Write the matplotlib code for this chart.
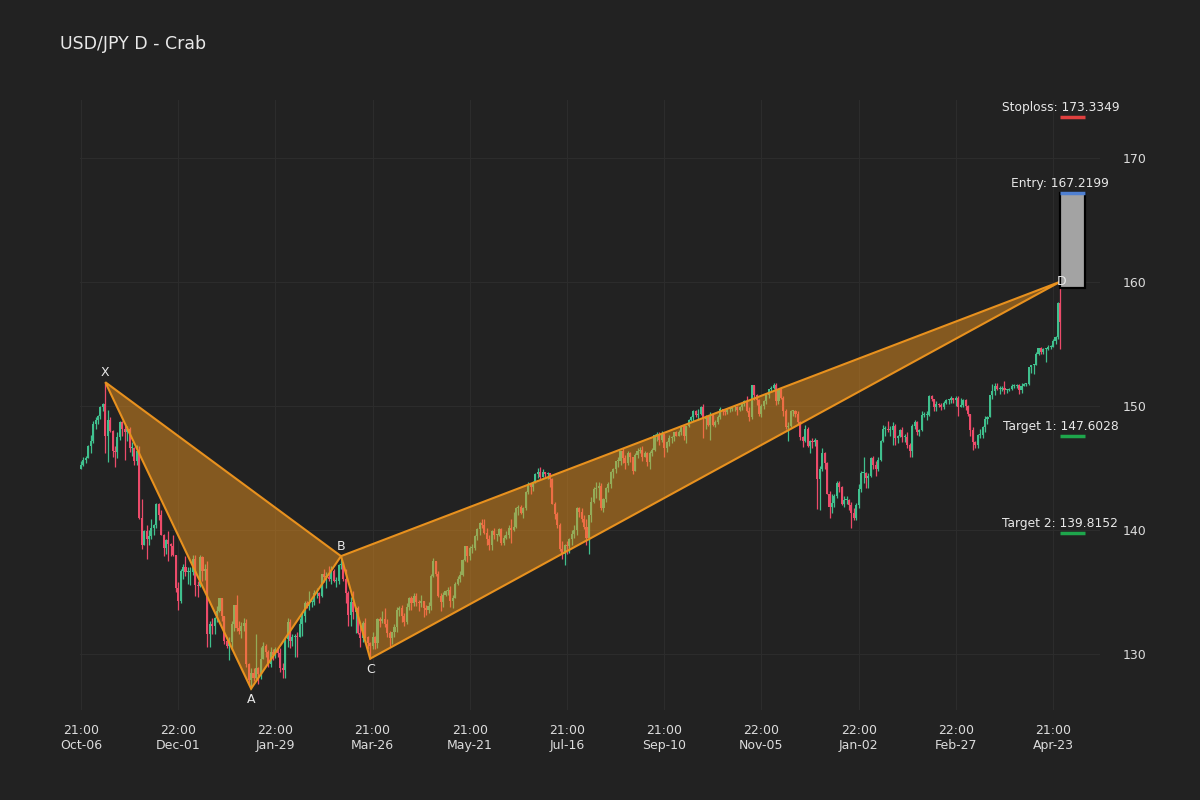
import matplotlib
matplotlib.use("Agg")
import matplotlib.pyplot as plt
from matplotlib.patches import Polygon, Rectangle
import numpy as np

# daily USD/JPY bars, Oct 2022 - Apr 2024 (one value per trading day)
closes = [
    145.3, 145.7, 145.8, 146.8, 147.2, 148.6, 148.9, 149.2, 149.9, 150.2,
    147.6, 148.9, 148.0, 146.4, 146.3, 147.5, 148.7, 148.2, 147.9, 148.2,
    146.6, 146.6, 145.6, 146.4, 141.0, 138.8, 139.9, 139.3, 139.5, 140.2,
    140.4, 142.1, 141.2, 139.6, 138.6, 139.2, 138.9, 138.7, 138.0, 135.3,
    134.3, 136.7, 137.0, 136.6, 136.6, 136.6, 137.7, 135.6, 135.5, 137.8,
    136.7, 136.9, 131.6, 132.4, 132.3, 132.9, 133.5, 134.5, 133.1, 131.1,
    130.7, 131.0, 132.4, 134.0, 132.1, 131.9, 132.3, 132.5, 129.2, 127.9,
    128.5, 128.1, 128.9, 128.4, 129.6, 130.7, 130.2, 129.2, 130.2, 129.9,
    130.4, 130.1, 128.9, 128.7, 131.2, 132.6, 131.1, 131.4, 131.5, 131.4,
    132.4, 133.1, 134.1, 133.9, 134.2, 134.2, 134.9, 134.9, 134.7, 136.5,
    136.2, 136.2, 136.1, 136.7, 135.9, 135.9, 137.2, 137.3, 136.1, 134.9,
    133.2, 134.2, 133.4, 133.7, 131.7, 131.3, 132.5, 131.4, 130.9, 130.7,
    131.4, 130.9, 132.8, 132.7, 132.8, 132.4, 131.7, 131.3, 131.8, 132.2,
    133.6, 133.7, 133.1, 132.6, 133.8, 134.5, 134.1, 134.7, 134.2, 134.1,
    134.3, 133.7, 133.6, 133.9, 136.3, 137.5, 136.5, 134.7, 134.2, 134.8,
    135.1, 135.2, 134.3, 134.5, 135.7, 136.1, 136.4, 137.6, 138.7, 137.9,
    138.6, 138.6, 139.5, 140.1, 140.6, 140.4, 139.8, 139.3, 138.8, 139.9,
    139.6, 139.6, 140.1, 139.0, 139.4, 139.6, 140.2, 140.0, 140.3, 141.8,
    141.9, 141.4, 141.8, 143.1, 143.7, 143.5, 143.9, 144.5, 144.7, 144.3,
    144.7, 144.5, 144.6, 144.1, 142.1, 141.3, 140.4, 138.5, 138.1, 138.8,
    138.7, 139.3, 139.7, 140.0, 141.8, 141.5, 140.9, 140.3, 139.4, 141.2,
    142.3, 143.3, 143.4, 143.6, 141.8, 142.5, 143.4, 143.7, 144.7, 144.9,
    145.6, 145.6, 146.4, 145.8, 145.4, 146.2, 145.9, 144.8, 146.1, 146.4,
    146.5, 145.9, 146.2, 145.5, 146.2, 146.5, 147.7, 147.7, 147.3, 147.8,
    146.6, 147.1, 147.4, 147.5, 147.9, 147.6, 147.9, 148.4, 147.6, 148.4,
    148.9, 149.1, 149.6, 149.3, 149.4, 149.9, 149.0, 149.1, 148.5, 149.3,
    148.5, 148.7, 149.1, 149.8, 149.6, 149.5, 149.8, 149.8, 149.9, 149.9,
    149.7, 149.9, 150.2, 150.4, 149.6, 149.1, 151.7, 150.9, 150.5, 149.4,
    150.0, 150.4, 150.9, 151.4, 151.5, 151.7, 150.4, 151.4, 150.7, 149.6,
    148.3, 148.4, 149.6, 149.6, 149.4, 148.7, 147.5, 147.2, 148.2, 146.8,
    147.2, 147.1, 147.3, 144.1, 144.9, 146.2, 145.4, 142.9, 141.9, 142.2,
    142.8, 143.8, 143.5, 142.1, 142.4, 142.4, 142.0, 141.4, 141.0, 142.0,
    143.3, 144.6, 144.6, 144.2, 144.4, 145.8, 145.3, 144.9, 145.7, 147.2,
    148.2, 148.2, 148.1, 148.1, 148.4, 147.4, 147.6, 148.1, 147.5, 147.5,
    146.9, 146.4, 148.4, 148.7, 147.9, 148.1, 149.3, 149.3, 149.3, 150.8,
    150.6, 149.9, 150.2, 150.1, 149.9, 150.3, 150.5, 150.5, 150.7, 150.5,
    150.7, 149.9, 150.1, 150.5, 150.0, 149.4, 148.1, 147.1, 146.9, 147.7,
    147.7, 148.3, 149.0, 149.1, 150.9, 151.2, 151.6, 151.4, 151.4, 151.5,
    151.3, 151.3, 151.4, 151.6, 151.6, 151.7, 151.3, 151.6, 151.8, 151.8,
    153.2, 153.3, 153.3, 154.2, 154.7, 154.4, 154.6, 154.6, 154.8, 154.8,
    155.3, 155.6, 158.3, 156.8,
]
highs = [
    145.6, 145.9, 146.0, 146.9, 147.7, 148.8, 149.1, 149.3, 150.0, 150.3,
    151.9, 149.7, 149.1, 148.1, 146.8, 147.9, 148.8, 148.8, 148.6, 148.4,
    148.3, 147.1, 146.7, 146.9, 146.8, 142.5, 140.0, 140.4, 140.0, 140.9,
    140.5, 142.2, 142.2, 141.6, 139.7, 139.3, 139.9, 139.0, 139.6, 138.0,
    135.8, 136.9, 137.3, 137.9, 137.0, 137.0, 138.0, 138.0, 135.9, 138.0,
    137.9, 137.3, 137.5, 132.7, 132.9, 133.0, 133.9, 134.5, 134.5, 133.1,
    131.4, 131.4, 132.7, 134.0, 134.8, 132.7, 132.6, 132.9, 132.8, 129.3,
    128.9, 128.9, 131.6, 129.0, 130.6, 131.0, 130.8, 130.3, 130.6, 130.4,
    130.6, 130.5, 130.5, 129.3, 131.2, 132.9, 132.8, 131.6, 131.6, 131.8,
    132.9, 133.3, 134.3, 134.3, 135.1, 134.4, 135.2, 135.3, 135.0, 136.5,
    136.9, 136.6, 137.1, 137.1, 136.9, 136.2, 137.3, 137.9, 137.4, 136.9,
    135.1, 134.6, 135.1, 133.8, 133.9, 132.6, 132.7, 132.9, 131.5, 131.0,
    131.8, 131.5, 132.9, 133.0, 133.5, 133.7, 132.8, 131.9, 131.8, 132.4,
    133.8, 133.9, 134.0, 133.3, 134.1, 134.6, 134.7, 134.9, 134.9, 134.4,
    134.8, 134.3, 134.0, 134.2, 136.5, 137.8, 137.5, 136.7, 134.9, 135.0,
    135.2, 135.4, 135.5, 134.8, 135.8, 136.3, 136.7, 137.7, 138.7, 138.7,
    138.7, 138.9, 139.6, 140.2, 140.7, 140.9, 140.9, 140.2, 139.6, 140.0,
    140.2, 139.7, 140.2, 140.2, 139.6, 139.9, 140.4, 140.9, 141.5, 141.9,
    142.0, 142.0, 141.9, 143.2, 143.9, 143.7, 144.0, 144.6, 145.0, 145.1,
    144.9, 144.7, 144.7, 144.6, 144.2, 142.3, 141.5, 140.6, 139.1, 138.9,
    139.1, 139.4, 140.0, 140.4, 141.9, 141.9, 141.8, 141.2, 140.9, 141.2,
    142.7, 143.5, 143.9, 143.9, 143.8, 142.6, 143.5, 143.9, 144.8, 145.0,
    145.6, 145.9, 146.4, 146.6, 146.1, 146.4, 146.3, 145.9, 146.2, 146.6,
    146.7, 146.8, 146.4, 146.3, 146.4, 146.6, 147.8, 147.9, 147.9, 148.0,
    147.8, 147.2, 147.7, 147.6, 147.9, 148.0, 148.1, 148.5, 148.4, 148.4,
    149.0, 149.2, 149.7, 149.7, 149.8, 150.0, 150.2, 149.3, 149.3, 149.5,
    149.3, 148.9, 149.3, 149.9, 149.8, 149.8, 149.8, 149.9, 150.0, 150.0,
    150.0, 150.0, 150.2, 150.5, 150.8, 149.9, 151.7, 151.7, 151.0, 150.6,
    150.2, 150.5, 151.0, 151.4, 151.6, 151.9, 151.9, 151.4, 151.5, 150.8,
    149.8, 148.7, 149.7, 149.7, 149.7, 149.6, 148.8, 147.6, 148.5, 148.3,
    147.3, 147.4, 147.4, 147.3, 145.2, 146.6, 146.3, 145.5, 143.2, 142.9,
    142.9, 144.0, 144.0, 143.6, 142.8, 142.8, 142.5, 142.3, 141.8, 142.2,
    143.7, 144.8, 145.9, 144.7, 144.6, 145.9, 146.0, 145.6, 145.9, 147.3,
    148.5, 148.4, 148.8, 148.4, 148.7, 148.6, 147.7, 148.2, 148.3, 147.8,
    147.9, 147.0, 148.6, 148.9, 148.8, 148.2, 149.6, 149.5, 149.6, 150.9,
    150.9, 150.6, 150.4, 150.3, 150.3, 150.4, 150.6, 150.6, 150.8, 150.7,
    150.8, 150.8, 150.7, 150.6, 150.6, 150.1, 149.4, 148.3, 147.2, 147.8,
    148.2, 148.4, 149.2, 149.2, 150.9, 151.8, 151.9, 151.9, 151.6, 151.6,
    152.0, 151.4, 151.5, 151.8, 151.8, 151.8, 151.8, 151.9, 151.9, 151.9,
    153.2, 153.3, 153.4, 154.4, 154.7, 154.8, 154.7, 154.7, 154.9, 154.9,
    155.4, 155.7, 158.4, 159.5,
]
lows = [
    144.9, 145.2, 145.4, 145.8, 146.2, 147.0, 148.2, 148.6, 149.0, 149.6,
    146.2, 145.5, 147.9, 145.9, 145.1, 145.8, 147.3, 147.6, 145.7, 147.2,
    146.3, 146.0, 145.3, 145.3, 140.9, 138.5, 138.8, 137.7, 138.8, 139.3,
    139.6, 140.2, 140.8, 139.6, 137.9, 138.1, 137.5, 137.9, 137.9, 135.0,
    133.6, 134.1, 136.1, 136.3, 135.7, 135.6, 136.4, 134.7, 134.6, 135.4,
    135.9, 136.0, 130.6, 130.6, 131.6, 131.6, 132.6, 133.4, 132.7, 130.8,
    130.5, 129.5, 130.3, 131.9, 131.9, 131.6, 131.3, 131.9, 129.0, 127.5,
    127.2, 127.8, 127.9, 127.6, 128.0, 129.6, 129.8, 129.0, 129.0, 129.5,
    129.7, 129.8, 128.6, 128.1, 128.1, 130.6, 130.5, 130.7, 129.8, 129.8,
    131.4, 131.5, 132.6, 133.7, 133.6, 133.8, 134.0, 134.5, 134.1, 134.6,
    135.8, 135.3, 135.9, 135.7, 135.8, 135.4, 135.7, 136.9, 135.9, 134.1,
    132.3, 132.3, 132.8, 131.7, 131.6, 130.6, 131.0, 131.3, 130.4, 129.6,
    130.4, 130.4, 130.5, 132.2, 132.5, 132.2, 131.4, 130.6, 130.8, 131.4,
    131.8, 133.1, 132.6, 132.3, 132.4, 133.6, 133.6, 133.9, 133.9, 133.5,
    133.8, 133.0, 133.2, 133.3, 133.6, 136.2, 136.3, 134.6, 133.5, 133.8,
    134.7, 134.8, 133.8, 133.7, 134.5, 135.6, 135.8, 136.3, 137.5, 137.4,
    137.6, 138.2, 138.4, 139.2, 139.6, 140.2, 139.7, 138.8, 138.4, 138.4,
    139.3, 139.1, 139.5, 138.8, 138.8, 139.3, 139.4, 139.0, 139.9, 140.2,
    141.2, 141.3, 141.0, 141.6, 142.9, 142.9, 143.2, 143.8, 144.2, 144.1,
    144.3, 144.2, 144.1, 143.5, 142.1, 140.9, 140.2, 138.3, 137.7, 137.2,
    138.1, 138.2, 138.8, 139.4, 139.6, 141.1, 140.7, 140.1, 138.8, 138.1,
    140.7, 142.2, 142.6, 142.4, 141.6, 141.5, 142.3, 143.1, 143.4, 144.2,
    144.6, 145.1, 145.3, 145.4, 144.9, 145.3, 145.5, 144.5, 144.8, 145.8,
    146.2, 145.6, 145.9, 145.2, 144.9, 146.0, 146.4, 147.2, 146.9, 147.1,
    145.9, 146.3, 146.8, 147.0, 147.2, 147.6, 147.6, 147.7, 147.3, 147.0,
    148.3, 148.8, 148.8, 149.1, 148.9, 149.3, 147.4, 148.2, 148.4, 147.3,
    148.4, 148.3, 148.6, 149.0, 149.3, 149.3, 149.4, 149.5, 149.6, 149.6,
    149.3, 149.6, 149.7, 150.0, 149.5, 148.8, 149.0, 150.5, 150.1, 149.2,
    149.1, 149.8, 150.2, 150.7, 151.2, 151.4, 150.1, 150.2, 150.6, 149.2,
    148.2, 147.2, 148.3, 149.2, 149.1, 148.6, 147.3, 146.7, 147.1, 146.7,
    146.2, 146.6, 146.8, 141.7, 141.6, 144.8, 144.9, 142.9, 141.0, 141.4,
    141.9, 142.6, 143.1, 142.0, 141.9, 142.1, 141.6, 140.2, 140.8, 140.8,
    141.8, 143.1, 143.8, 143.4, 143.4, 144.3, 144.9, 144.4, 144.8, 145.6,
    147.1, 147.6, 147.9, 147.6, 146.9, 146.9, 147.0, 147.5, 147.1, 147.1,
    146.6, 145.9, 145.9, 148.2, 147.7, 147.6, 148.0, 149.1, 148.9, 149.2,
    150.4, 149.6, 149.6, 149.9, 149.7, 149.8, 150.2, 150.2, 150.3, 150.3,
    150.0, 149.2, 149.9, 149.9, 149.7, 149.2, 147.6, 146.5, 146.6, 146.6,
    147.4, 147.4, 147.9, 148.6, 149.1, 150.6, 150.9, 151.3, 151.0, 151.2,
    151.0, 151.1, 151.2, 151.3, 151.5, 151.5, 151.0, 151.1, 151.6, 151.6,
    151.7, 152.7, 152.6, 153.3, 154.1, 154.2, 154.2, 153.6, 154.5, 154.6,
    154.8, 155.0, 155.4, 154.6,
]
# forex daily bars open at the previous close
opens = [144.9] + closes[:-1]

tick_pos = [0, 40, 80, 120, 160, 200, 240, 280, 320, 360, 400]
tick_labels = ["21:00\nOct-06", "22:00\nDec-01", "22:00\nJan-29", "21:00\nMar-26",
               "21:00\nMay-21", "21:00\nJul-16", "21:00\nSep-10", "22:00\nNov-05",
               "22:00\nJan-02", "22:00\nFeb-27", "21:00\nApr-23"]

# harmonic pattern points (bar index, price)
pattern_names = ["X", "A", "B", "C", "D"]
pattern_idx = [10, 70, 107, 119, 403]
pattern_px = [151.94, 127.22, 137.91, 129.64, 160.05]

entry = 167.2199
stoploss = 173.3349
target1 = 147.6028
target2 = 139.8152
box_low = 159.55

bg = "#222222"
up_col = "#40c08e"
down_col = "#ec4b6a"
orange = "#e8911e"
txt = "#e8e8e8"

fig = plt.figure(figsize=(12, 8), dpi=100, facecolor=bg)
ax = fig.add_axes([80 / 1200, 90 / 800, 1020 / 1200, 610 / 800])
ax.set_facecolor(bg)

o = np.array(opens)
c = np.array(closes)
h = np.array(highs)
l = np.array(lows)
x = np.arange(len(c))
colors = np.where(c >= o, up_col, down_col)

ax.vlines(x, l, h, colors=colors, linewidth=0.9, zorder=2)
body = np.abs(c - o)
body = np.where(body < 0.08, 0.08, body)
ax.bar(x, body, bottom=np.minimum(o, c), width=0.85, color=colors,
       linewidth=0, zorder=2)

# pattern triangles XAB and BCD
pts = list(zip(pattern_idx, pattern_px))
for tri in ([pts[0], pts[1], pts[2]], [pts[2], pts[3], pts[4]]):
    ax.add_patch(Polygon(tri, closed=True, facecolor="#f0961e", alpha=0.48,
                         edgecolor="none", zorder=3))
    ax.add_patch(Polygon(tri, closed=True, facecolor="none", edgecolor=orange,
                         linewidth=1.5, zorder=4))

offsets = {"X": 10, "A": -11, "B": 10, "C": -11, "D": 0}
for name, xi, yi in zip(pattern_names, pattern_idx, pattern_px):
    ax.annotate(name, (xi, yi), xytext=(1 if name == "D" else 0, offsets[name]),
                textcoords="offset pixels", ha="center", va="center",
                color=txt, fontsize=9, zorder=6)

# entry box and levels
x0, x1 = 403, 413
ax.add_patch(Rectangle((x0, box_low), x1 - x0, entry - box_low, facecolor="#a3a3a3",
                       edgecolor="black", linewidth=1.6, zorder=5))
ax.hlines(entry, x0, x1, colors="#4f80d2", linewidth=2.5, zorder=6)
ax.hlines(stoploss, x0, x1, colors="#e0403f", linewidth=2.5, zorder=6)
ax.hlines([target1, target2], x0, x1, colors="#1ea64c", linewidth=2.5, zorder=6)

for label, val in [("Stoploss", stoploss), ("Entry", entry),
                   ("Target 1", target1), ("Target 2", target2)]:
    ax.annotate(f"{label}: {val:.4f}", (x0, val), xytext=(0, 9),
                textcoords="offset pixels", ha="center", va="center",
                color=txt, fontsize=8.8, zorder=7)

ax.set_xlim(-0.4, 419.3)
ax.set_ylim(125.5, 174.7)
ax.set_xticks(tick_pos)
ax.set_xticklabels(tick_labels)
ax.set_yticks([130, 140, 150, 160, 170])
ax.yaxis.tick_right()
ax.tick_params(axis="both", length=0, colors="#dcdcdc", labelsize=9)
ax.tick_params(axis="y", pad=16)
ax.tick_params(axis="x", pad=10)
ax.grid(True, color="#2c2c2c", linewidth=0.8, zorder=0)
ax.set_axisbelow(True)
for s in ax.spines.values():
    s.set_visible(False)

fig.text(60 / 1200, 1 - 44 / 800, "USD/JPY D - Crab", color=txt, fontsize=12.5,
         ha="left", va="center")

fig.savefig("out.png", dpi=100, facecolor=bg)
